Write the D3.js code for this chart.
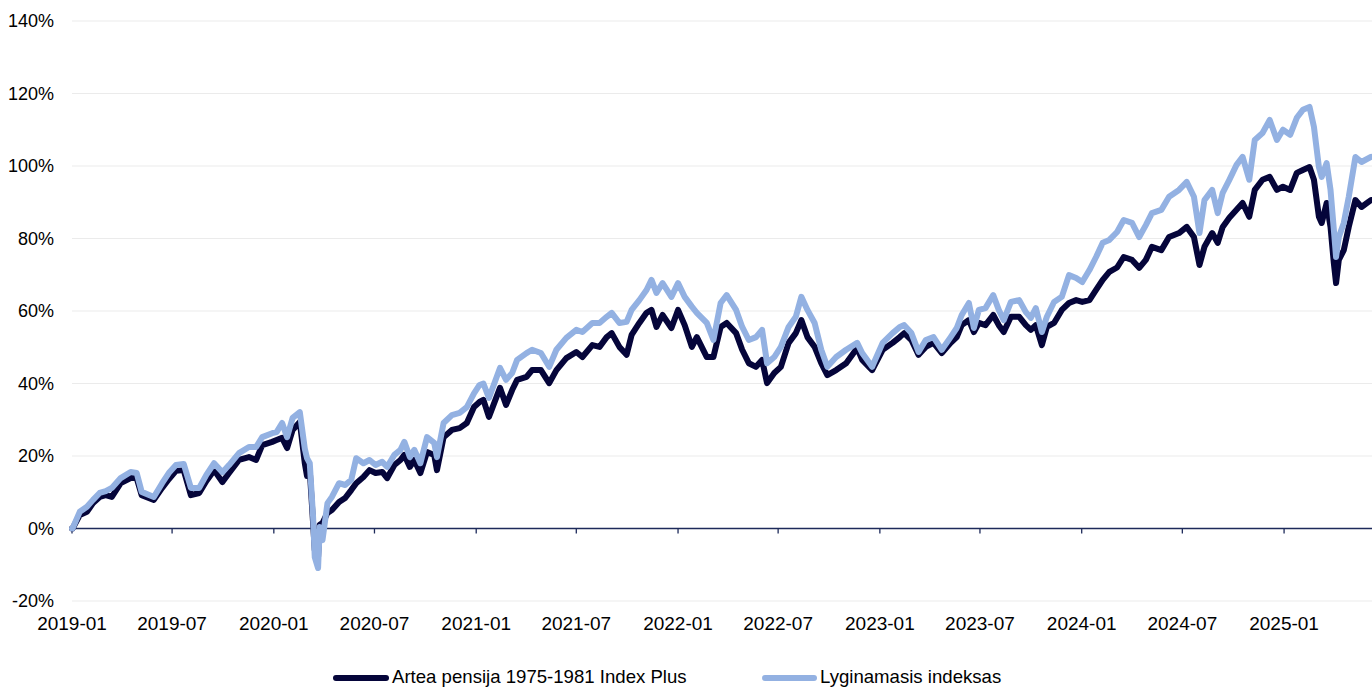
<!DOCTYPE html>
<html>
<head>
<meta charset="utf-8">
<script src="https://cdn.jsdelivr.net/npm/d3@7"></script>
<style>
  html, body { margin: 0; padding: 0; background: #fff; }
  svg { display: block; }
  text { font-family: "Liberation Sans", Arial, sans-serif; fill: #000; }
</style>
</head>
<body>
<svg id="chart" width="1372" height="689"></svg>
<script>
const seriesNames = ["Artea pensija 1975-1981 Index Plus", "Lyginamasis indeksas"];
const yTicks = [-20, 0, 20, 40, 60, 80, 100, 120, 140];

const dates = [
"2019-01-01","2019-01-02","2019-01-15","2019-01-28","2019-02-08","2019-02-20","2019-03-03","2019-03-14","2019-03-30","2019-04-17","2019-04-28",
"2019-05-07","2019-05-29","2019-06-13","2019-06-25","2019-07-08","2019-07-22","2019-08-04","2019-08-19","2019-09-01","2019-09-15","2019-09-30",
"2019-10-12","2019-10-30","2019-11-17","2019-11-30","2019-12-11","2019-12-29","2020-01-06","2020-01-16","2020-01-25","2020-02-04","2020-02-17",
"2020-02-26","2020-03-01","2020-03-06","2020-03-12","2020-03-15","2020-03-21","2020-03-24","2020-03-29","2020-04-07","2020-04-15","2020-04-28",
"2020-05-09","2020-05-20","2020-05-29","2020-06-11","2020-06-22","2020-07-03","2020-07-15","2020-07-24","2020-08-06","2020-08-17","2020-08-24",
"2020-09-03","2020-09-11","2020-09-22","2020-10-04","2020-10-17","2020-10-22","2020-11-03","2020-11-18","2020-12-02","2020-12-15","2020-12-28",
"2021-01-07","2021-01-14","2021-01-24","2021-02-13","2021-02-24","2021-03-07","2021-03-16","2021-04-02","2021-04-12","2021-04-28","2021-05-13",
"2021-05-26","2021-06-13","2021-07-01","2021-07-12","2021-07-30","2021-08-12","2021-08-25","2021-09-03","2021-09-17","2021-09-30","2021-10-09",
"2021-10-23","2021-11-05","2021-11-14","2021-11-23","2021-12-04","2021-12-20","2022-01-01","2022-01-13","2022-01-26","2022-02-04","2022-02-22",
"2022-03-06","2022-03-19","2022-03-30","2022-04-16","2022-04-27","2022-05-09","2022-05-22","2022-06-02","2022-06-11","2022-06-24","2022-07-06",
"2022-07-20","2022-08-02","2022-08-12","2022-08-23","2022-09-05","2022-09-17","2022-09-28","2022-10-14","2022-11-01","2022-11-21","2022-11-30",
"2022-12-18","2023-01-06","2023-01-24","2023-02-06","2023-02-14","2023-02-27","2023-03-12","2023-03-25","2023-04-08","2023-04-23","2023-05-09",
"2023-05-20","2023-05-29","2023-06-11","2023-06-20","2023-06-29","2023-07-11","2023-07-25","2023-08-04","2023-08-13","2023-08-26","2023-09-10",
"2023-09-22","2023-10-01","2023-10-10","2023-10-21","2023-10-30","2023-11-12","2023-11-26","2023-12-09","2023-12-22","2024-01-02","2024-01-15",
"2024-01-27","2024-02-08","2024-02-20","2024-03-05","2024-03-17","2024-04-01","2024-04-14","2024-04-26","2024-05-07","2024-05-24","2024-06-07",
"2024-06-25","2024-07-09","2024-07-22","2024-08-01","2024-08-10","2024-08-24","2024-09-03","2024-09-12","2024-09-24","2024-10-07","2024-10-18",
"2024-10-30","2024-11-09","2024-11-23","2024-12-06","2024-12-19","2024-12-30","2025-01-12","2025-01-24","2025-02-04","2025-02-16","2025-02-24",
"2025-03-05","2025-03-10","2025-03-19","2025-03-26","2025-04-01","2025-04-05","2025-04-10","2025-04-19","2025-04-28","2025-05-10","2025-05-21",
"2025-06-07"
];

const fundValues = [
0,0,3.7,4.6,7.0,8.7,9.2,8.7,12.5,13.9,13.9,
9.2,7.9,11.2,13.6,15.9,16.1,9.2,9.8,13.1,16.1,12.8,
15.3,18.9,19.7,18.9,23.0,23.9,24.4,25.0,22.2,27.2,29.4,
18.0,14.5,16.0,1.5,-5.9,-7.9,1.0,1.5,4.3,5.1,7.3,
8.4,10.6,12.5,14.2,16.1,15.3,15.6,13.9,17.5,18.9,20.3,
17.0,18.9,15.3,21.1,20.3,16.1,25.2,27.2,27.7,29.1,33.5,
34.9,35.5,30.8,38.8,34.1,38.2,41.0,41.8,43.7,43.7,40.1,
43.7,47.0,48.7,47.3,50.6,50.1,52.8,53.9,50.1,47.9,53.4,
56.7,59.5,60.3,55.6,58.9,55.3,60.3,56.1,50.1,52.8,47.3,
47.3,55.6,56.7,53.9,49.3,45.6,44.6,46.5,40.1,42.9,44.6,
51.2,53.9,57.5,52.8,50.1,45.6,42.3,43.7,45.6,49.8,46.5,
43.7,49.3,51.2,52.8,53.9,52.0,47.9,50.1,51.2,48.4,51.2,
52.8,56.1,57.5,54.2,56.7,56.1,58.9,56.1,54.2,58.4,58.4,
56.1,54.8,56.1,50.6,55.6,56.7,60.3,62.2,63.0,62.5,63.0,
65.8,68.6,70.8,72.0,74.9,74.1,71.9,74.1,77.7,76.8,80.4,
81.5,83.2,80.4,72.7,77.7,81.5,78.8,83.2,85.7,87.9,89.8,
86.0,93.4,96.2,97.0,93.4,94.3,93.4,98.1,98.9,99.7,96.2,
86.0,84.3,89.8,83.2,73.2,67.7,74.1,76.8,83.2,90.6,88.7,
90.6
];

const benchValues = [
0,0,4.6,6.0,7.9,9.8,10.3,11.2,13.9,15.6,15.3,
10.1,8.7,12.5,15.3,17.5,17.8,11.2,11.2,14.8,18.0,15.5,
17.5,20.8,22.5,22.5,25.2,26.3,26.6,29.1,25.2,30.5,32.1,
22.0,19.4,18.0,3.2,-7.9,-10.9,0.4,-3.2,7.0,8.7,12.5,
12.0,13.4,19.4,18.0,18.9,17.5,18.4,17.0,20.3,21.7,23.9,
19.7,21.7,18.0,25.2,23.6,19.7,29.1,31.3,31.9,33.5,37.3,
39.6,40.0,36.0,44.3,41.0,42.9,46.5,48.4,49.3,48.4,44.6,
49.3,52.6,54.8,54.2,56.7,56.7,58.4,59.5,56.7,57.0,60.3,
63.0,65.8,68.6,65.0,67.7,63.9,67.7,63.9,61.2,59.5,56.7,
52.0,62.2,64.4,60.3,55.6,52.0,52.8,54.8,45.6,47.3,50.1,
55.6,58.4,63.9,60.3,56.7,49.3,44.6,47.3,49.3,51.2,48.4,
44.6,51.2,53.9,55.6,56.1,53.9,48.7,52.0,52.8,49.3,52.8,
55.3,58.9,62.2,55.3,60.3,60.8,64.4,60.3,57.5,62.5,63.0,
59.7,58.1,60.8,54.2,58.4,62.5,63.9,69.9,69.1,68.0,71.3,
74.9,78.8,79.6,81.8,85.1,84.3,80.4,83.7,87.0,87.9,91.5,
93.4,95.6,91.5,81.5,90.6,93.4,87.0,92.6,96.2,100.3,102.5,
96.2,107.2,109.1,112.7,107.2,110.0,108.6,113.3,115.5,116.3,110.8,
99.7,97.0,100.8,93.4,82.4,74.9,80.4,84.3,91.5,102.5,101.1,
102.5
];

const colors = ["#05053a", "#93b1e2"];

const svg = d3.select("#chart");
const W = 1372, H = 689;
const plot = { left: 72, right: 1372, top: 21, bottom: 601 };

const parse = d3.utcParse("%Y-%m-%d");
const parsedDates = dates.map(parse);

const x = d3.scaleUtc()
  .domain([parse("2019-01-01"), parse("2025-06-09")])
  .range([plot.left, plot.right]);

const y = d3.scaleLinear()
  .domain([-20, 140])
  .range([plot.bottom, plot.top]);

// gridlines
svg.append("g").selectAll("line")
  .data(yTicks.filter(v => v !== 0))
  .join("line")
  .attr("x1", plot.left).attr("x2", plot.right)
  .attr("y1", d => y(d)).attr("y2", d => y(d))
  .attr("stroke", "#ebebeb").attr("stroke-width", 1);

// y labels
svg.append("g").selectAll("text")
  .data(yTicks)
  .join("text")
  .attr("x", 54)
  .attr("y", d => y(d))
  .attr("dy", "0.36em")
  .attr("text-anchor", "end")
  .style("font-size", "18px")
  .text(d => d + "%");

// x axis at 0%
const xTicks = x.ticks(d3.utcMonth.every(6)).filter(d => d <= parse("2025-01-02"));
const axisG = svg.append("g");
axisG.append("line")
  .attr("x1", plot.left).attr("x2", plot.right)
  .attr("y1", y(0)).attr("y2", y(0))
  .attr("stroke", "#1d2a5a").attr("stroke-width", 1.3);
axisG.selectAll("line.tick")
  .data(xTicks)
  .join("line")
  .attr("class", "tick")
  .attr("x1", d => x(d)).attr("x2", d => x(d))
  .attr("y1", y(0)).attr("y2", y(0) + 5)
  .attr("stroke", "#1d2a5a").attr("stroke-width", 1.3);

svg.append("g").selectAll("text")
  .data(xTicks)
  .join("text")
  .attr("x", d => x(d))
  .attr("y", 630)
  .attr("text-anchor", "middle")
  .style("font-size", "19px")
  .text(d => d3.utcFormat("%Y-%m")(d));

// lines
const rows = parsedDates.map((d, i) => ({ date: d, fund: fundValues[i], bench: benchValues[i] }));
svg.append("clipPath").attr("id", "clip")
  .append("rect").attr("x", 0).attr("y", 0).attr("width", W).attr("height", H);

const lineFund = d3.line().x(d => x(d.date)).y(d => y(d.fund));
const lineBench = d3.line().x(d => x(d.date)).y(d => y(d.bench));

const lg = svg.append("g").attr("clip-path", "url(#clip)");
lg.append("path").datum(rows)
  .attr("d", lineFund)
  .attr("fill", "none").attr("stroke", colors[0]).attr("stroke-width", 6)
  .attr("stroke-linejoin", "round").attr("stroke-linecap", "round");
lg.append("path").datum(rows)
  .attr("d", lineBench)
  .attr("fill", "none").attr("stroke", colors[1]).attr("stroke-width", 6)
  .attr("stroke-linejoin", "round").attr("stroke-linecap", "round");

// legend
const legendItems = [
  { name: seriesNames[0], color: colors[0], x0: 336, x1: 386, tx: 392 },
  { name: seriesNames[1], color: colors[1], x0: 765, x1: 814, tx: 820 }
];
const leg = svg.append("g");
legendItems.forEach(it => {
  leg.append("line")
    .attr("x1", it.x0).attr("x2", it.x1)
    .attr("y1", 678).attr("y2", 678)
    .attr("stroke", it.color).attr("stroke-width", 6).attr("stroke-linecap", "round");
  leg.append("text")
    .attr("x", it.tx).attr("y", 676).attr("dy", "0.36em")
    .style("font-size", "18.6px")
    .text(it.name);
});
</script>
</body>
</html>
